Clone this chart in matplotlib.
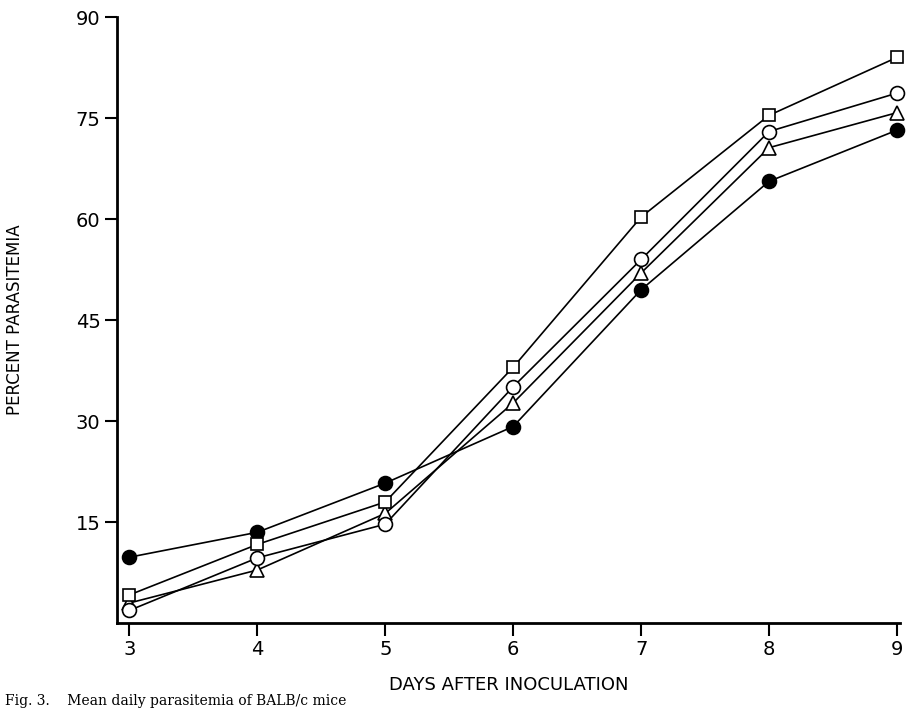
import matplotlib.pyplot as plt

# Datos
days = [3, 4, 5, 6, 7, 8, 9]
square = [4.2, 11.7, 18.0, 38.0, 60.3, 75.4, 84.0]
open_circle = [1.9, 9.7, 14.7, 35.1, 54.0, 73.0, 78.7]
triangle = [3.0, 7.9, 16.3, 32.7, 52.0, 70.6, 75.8]
filled_circle = [9.8, 13.5, 20.8, 29.2, 49.5, 65.6, 73.2]

yticks = [15, 30, 45, 60, 75, 90]

fig = plt.figure(figsize=(9.16, 7.09), dpi=100)
ax = fig.add_axes([0.128, 0.121, 0.854, 0.855])

style = dict(color='black', lw=1.2, markeredgewidth=1.2,
             markeredgecolor='black', clip_on=False)
ax.plot(days, filled_circle, marker='o', markerfacecolor='black', markersize=10, **style)
ax.plot(days, triangle, marker='^', markerfacecolor='white', markersize=10, **style)
ax.plot(days, open_circle, marker='o', markerfacecolor='white', markersize=10, **style)
ax.plot(days, square, marker='s', markerfacecolor='white', markersize=9, **style)

ax.set_xlim(2.905, 9.02)
ax.set_ylim(0, 90)
ax.set_xticks(days)
ax.set_yticks(yticks)
ax.spines['top'].set_visible(False)
ax.spines['right'].set_visible(False)
ax.spines['left'].set_linewidth(2)
ax.spines['bottom'].set_linewidth(2)
ax.tick_params(direction='out', length=9, width=1.5, labelsize=14, pad=3)

ax.set_xlabel('DAYS AFTER INOCULATION', fontsize=13, labelpad=12)
ax.set_ylabel('PERCENT PARASITEMIA', fontsize=12, labelpad=37)

# pie de figura, abajo a la izquierda como en el original
fig.text(0.005, 0.002, 'Fig. 3.    Mean daily parasitemia of BALB/c mice',
         fontsize=10, family='DejaVu Serif', va='bottom', ha='left')

fig.savefig('out.png', dpi=100)
